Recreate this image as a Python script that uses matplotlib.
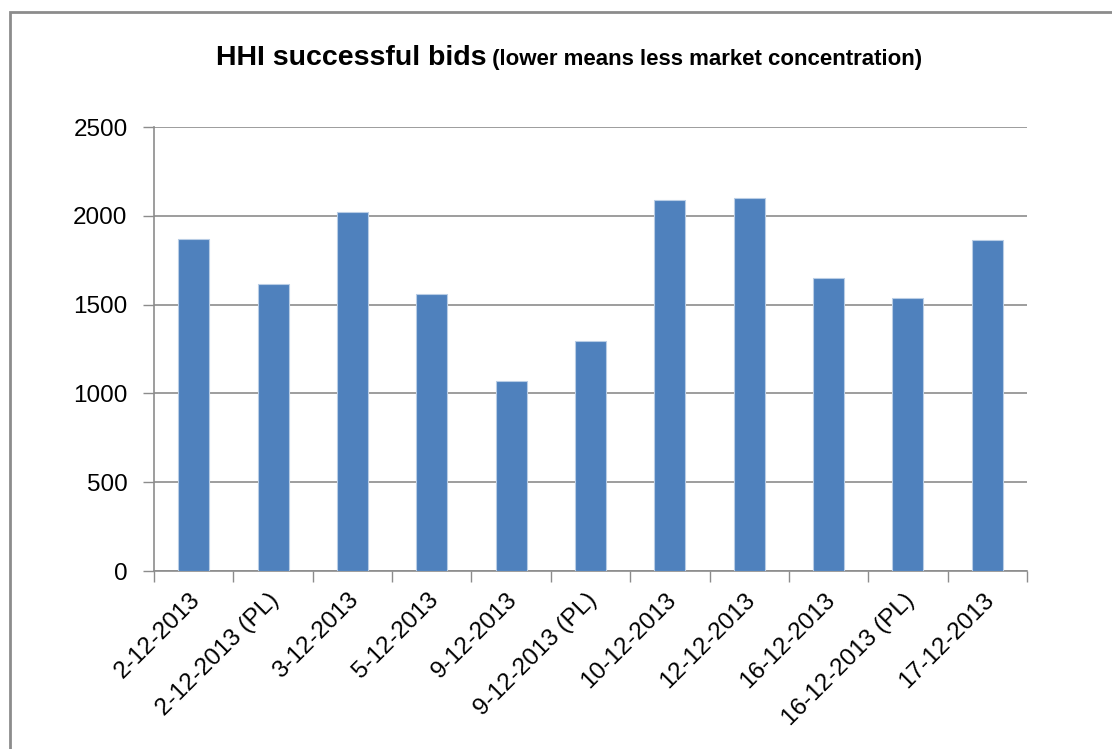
import matplotlib
matplotlib.use("Agg")
from matplotlib import pyplot as plt
from matplotlib.patches import Rectangle

dates = ['2-12-2013', '2-12-2013 (PL)', '3-12-2013', '5-12-2013', '9-12-2013',
         '9-12-2013 (PL)', '10-12-2013', '12-12-2013', '16-12-2013',
         '16-12-2013 (PL)', '17-12-2013']
hhi = [1872, 1618, 2023, 1560, 1070, 1295, 2089, 2103, 1647, 1539, 1863]
yticks = [0, 500, 1000, 1500, 2000, 2500]

plt.rcParams['font.family'] = ['Liberation Sans', 'DejaVu Sans']
fig = plt.figure(figsize=(11.12, 7.49), dpi=100)
ax = fig.add_axes([154 / 1112, 1 - 571 / 749, 873 / 1112, 444 / 749])

x = list(range(len(dates)))
ax.bar(x, hhi, width=0.39, color='#4F81BD', edgecolor='#B9CDE5', linewidth=0.8, zorder=3)

ax.set_xlim(-0.5, len(dates) - 0.5)
ax.set_ylim(0, 2500)
ax.set_yticks(yticks)
ax.set_yticklabels([str(v) for v in yticks], fontsize=17.5)
ax.yaxis.grid(True, color='#8C8C8C', linewidth=1.2, zorder=0)
ax.tick_params(axis='y', length=8, width=1, color='#8C8C8C', pad=11)

# category boundary ticks on x
ax.set_xticks([i - 0.5 for i in range(len(dates) + 1)])
ax.set_xticklabels([])
ax.tick_params(axis='x', which='major', length=8, width=1, color='#8C8C8C')
ax.set_xticks([i - 0.06 for i in x], minor=True)
ax.set_xticklabels(dates, minor=True, rotation=45, ha='right', va='top',
                   rotation_mode='anchor', fontsize=17.5)
ax.tick_params(axis='x', which='minor', length=0, pad=13)

for s in ['top', 'right']:
    ax.spines[s].set_visible(False)
for s in ['left', 'bottom']:
    ax.spines[s].set_color('#8C8C8C')
    ax.spines[s].set_linewidth(1.2)

# outer chart frame
fig.patches.append(Rectangle((10 / 1112, -0.05), 1.2, 1 - 12 / 749 + 0.05,
                             transform=fig.transFigure, fill=False,
                             edgecolor='#8C8C8C', linewidth=2))

# two-part title, centred together
t1 = fig.text(0, 0, 'HHI successful bids', fontsize=20.5, fontweight='bold',
              va='baseline')
t2 = fig.text(0, 0, ' (lower means less market concentration)', fontsize=16,
              fontweight='bold', va='baseline')
fig.canvas.draw()
r = fig.canvas.get_renderer()
w1 = t1.get_window_extent(r).width
w2 = t2.get_window_extent(r).width
start = 569 - (w1 + w2) / 2
t1.set_x(start / 1112)
t2.set_x((start + w1) / 1112)
for t in (t1, t2):
    t.set_y(1 - 65 / 749)

fig.savefig('out.png', dpi=100)
